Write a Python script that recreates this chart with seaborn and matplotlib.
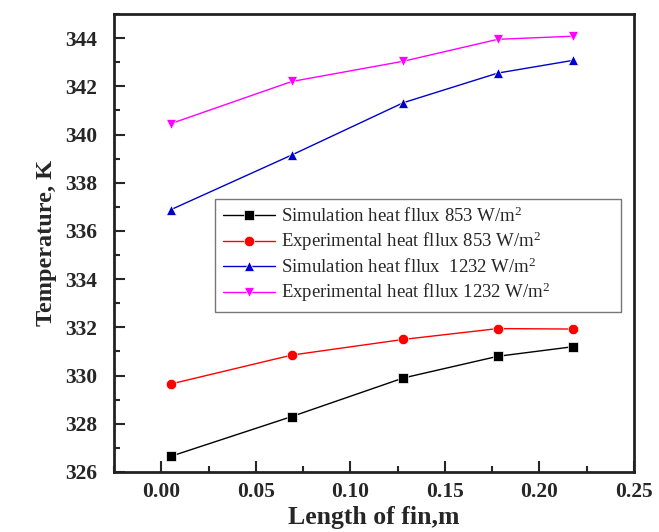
import numpy as np
import pandas as pd
import seaborn as sns
import matplotlib
matplotlib.use("Agg")
import matplotlib.pyplot as plt
from matplotlib.ticker import MultipleLocator

# Fin length positions (m)
length = [0.005, 0.069, 0.128, 0.178, 0.218]

# Temperatures along the fin (K)
sim_853 = [326.65, 328.3, 329.9, 330.8, 331.2]
exp_853 = [329.65, 330.85, 331.5, 331.95, 331.93]
sim_1232 = [336.88, 339.15, 341.32, 342.55, 343.08]
exp_1232 = [340.45, 342.2, 343.04, 343.95, 344.08]

series_names = [
    "Simulation heat fllux 853 W/m$^2$",
    "Experimental heat fllux 853 W/m$^2$",
    "Simulation heat fllux  1232 W/m$^2$",
    "Experimental heat fllux 1232 W/m$^2$",
]
series_values = [sim_853, exp_853, sim_1232, exp_1232]
colors = ["#000000", "#ff0000", "#0000cc", "#ff00ff"]
markers = ["s", "o", "^", "v"]

x_ticks = [0.00, 0.05, 0.10, 0.15, 0.20, 0.25]
x_tick_labels = ["0.00", "0.05", "0.10", "0.15", "0.20", "0.25"]

rows = []
for name, vals in zip(series_names, series_values):
    for x, y in zip(length, vals):
        rows.append({"length": x, "temp": y, "series": name})
df = pd.DataFrame(rows)

sns.set_style("white")
plt.rcParams["font.family"] = ["Liberation Serif", "DejaVu Serif"]
plt.rcParams["mathtext.fontset"] = "custom"
plt.rcParams["mathtext.rm"] = "Liberation Serif"
plt.rcParams["mathtext.it"] = "Liberation Serif"

fig = plt.figure(figsize=(6.59, 5.32), dpi=100)
ax = fig.add_axes([114 / 659, 1 - 472 / 532, (634 - 114) / 659, (472 - 14) / 532])

sns.lineplot(
    data=df, x="length", y="temp", hue="series", style="series",
    hue_order=series_names, style_order=series_names,
    palette=dict(zip(series_names, colors)),
    markers=dict(zip(series_names, markers)),
    dashes=False, linewidth=1.0, markersize=7.5, markeredgewidth=0.5,
    ax=ax,
)

ax.set_xlim(-0.025, 0.25)
ax.set_ylim(326, 345)
ax.set_xticks(x_ticks)
ax.set_xticklabels(x_tick_labels)
ax.xaxis.set_minor_locator(MultipleLocator(0.025))
ax.yaxis.set_major_locator(MultipleLocator(2))
ax.yaxis.set_minor_locator(MultipleLocator(1))

ax.tick_params(axis="both", which="major", direction="in", length=8, width=1.5,
               labelsize=15.5, bottom=True, left=True, top=False, right=False)
ax.tick_params(axis="both", which="minor", direction="in", length=4.5, width=1.5,
               bottom=True, left=True, top=False, right=False)
ax.tick_params(axis="y", which="major", pad=12)
ax.tick_params(axis="x", which="major", pad=7)
for lbl in ax.get_xticklabels() + ax.get_yticklabels():
    lbl.set_fontweight("bold")

for sp in ax.spines.values():
    sp.set_linewidth(2)
    sp.set_color("#222222")

ax.set_xlabel("Length of fin,m", fontsize=18.5, fontweight="bold", labelpad=3)
ax.set_ylabel("Temperature, K", fontsize=17.5, fontweight="bold", labelpad=6)

leg = ax.legend(
    loc="upper left",
    bbox_to_anchor=((215 - 114) / 520, (472 - 199) / 458, (621 - 215) / 520, 0),
    mode="expand", borderaxespad=0,
    fontsize=13.5, frameon=True, fancybox=False, edgecolor="#555555",
    handlelength=2.8, handletextpad=0.3, borderpad=0.4, labelspacing=0.22,
)
leg.get_frame().set_linewidth(1.0)

fig.savefig("out.png", dpi=100)
